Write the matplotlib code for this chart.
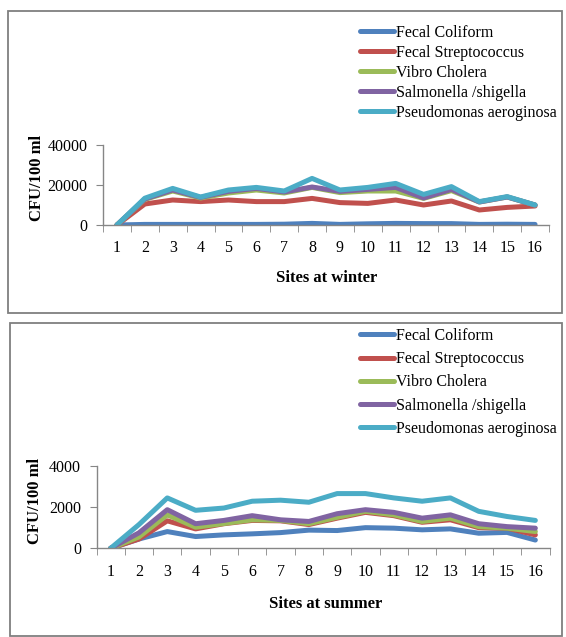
#bacteria counts winter / summer
import matplotlib
matplotlib.use('Agg')
import matplotlib.pyplot as plt
from matplotlib.patches import Rectangle

plt.rcParams['font.family'] = ['Liberation Serif', 'DejaVu Serif']

sites = list(range(1, 17))
names = ['Fecal Coliform', 'Fecal Streptococcus', 'Vibro Cholera',
         'Salmonella /shigella', 'Pseudomonas aeroginosa']
colors = ['#4F81BD', '#C0504D', '#9BBB59', '#8064A2', '#4BACC6']

winter_fc = [0, 300, 300, 300, 300, 300, 400, 800, 300, 600, 800, 700, 700, 300, 400, 300]
winter_fs = [0, 10500, 12500, 11700, 12500, 11700, 11700, 13300, 11200, 10800, 12500, 10000, 12000, 7500, 8800, 9500]
winter_vc = [0, 12800, 17000, 13500, 16000, 17500, 16000, 18800, 16200, 17000, 17000, 13300, 17200, 11500, 14000, 10000]
winter_ss = [0, 13000, 17500, 13800, 16800, 18300, 16500, 19000, 16800, 17800, 18800, 13500, 17800, 11500, 14000, 10000]
winter_pa = [0, 13400, 18300, 14000, 17500, 18800, 17000, 23300, 17500, 18800, 20800, 15300, 19200, 11700, 14200, 10000]

summer_fc = [0, 450, 810, 570, 650, 700, 760, 880, 860, 1000, 975, 895, 940, 730, 770, 400]
summer_fs = [0, 450, 1330, 940, 1190, 1350, 1330, 1150, 1460, 1740, 1580, 1260, 1380, 1000, 975, 650]
summer_vc = [0, 550, 1620, 1020, 1200, 1380, 1350, 1190, 1500, 1790, 1620, 1300, 1460, 1050, 975, 810]
summer_ss = [0, 750, 1870, 1190, 1350, 1580, 1380, 1300, 1675, 1870, 1740, 1460, 1620, 1190, 1050, 975]
summer_pa = [0, 1150, 2440, 1840, 1950, 2280, 2330, 2230, 2650, 2650, 2440, 2280, 2440, 1790, 1540, 1350]

winter_ticks = [0, 20000, 40000]
summer_ticks = [0, 2000, 4000]

fig = plt.figure(figsize=(5.66, 6.37), dpi=100)
W, H = 566.0, 637.0
grey = '#868686'


def panel(rect, series, yticks, leg_top, leg_space):
    ax = fig.add_axes(rect)
    for vals, name, c in zip(series, names, colors):
        ax.plot(sites, vals, color=c, lw=3.6, label=name, solid_capstyle='round',
                solid_joinstyle='round')
    ax.set_xlim(0.5, 16.5)
    ax.set_ylim(yticks[0], yticks[-1])
    ax.set_yticks(yticks)
    ax.set_xticks(sites)
    ax.set_xticks([s - 0.5 for s in sites] + [16.5], minor=True)
    ax.tick_params(axis='x', which='major', length=0, pad=11, labelsize=11.5)
    ax.tick_params(axis='x', which='minor', length=5, color=grey, direction='out')
    ax.tick_params(axis='y', length=5, color=grey, pad=6, labelsize=11.5)
    for s in ['top', 'right']:
        ax.spines[s].set_visible(False)
    for s in ['left', 'bottom']:
        ax.spines[s].set_color(grey)
        ax.spines[s].set_linewidth(1.0)
    ax.patch.set_alpha(0)
    fig.legend(loc='upper left', bbox_to_anchor=(360 / W, leg_top), frameon=False,
               fontsize=11.5, handlelength=2.1, handletextpad=0.15,
               labelspacing=leg_space, borderpad=0, borderaxespad=0,
               handles=ax.get_lines())
    return ax


# top panel (winter)
fig.add_artist(Rectangle((8 / W, 1 - 313 / H), 554 / W, 302 / H, transform=fig.transFigure,
                         fill=False, ec='#7f7f7f', lw=1.3))
panel([103 / W, 1 - 225 / H, 446 / W, 80 / H],
      [winter_fc, winter_fs, winter_vc, winter_ss, winter_pa],
      winter_ticks, 1 - 25 / H, 0.25)
fig.text(37 / W, 1 - 178 / H, 'CFU/100 ml', rotation=90, fontsize=12, fontweight='bold',
         ha='center', va='center')
fig.text(327 / W, 1 - 278 / H, 'Sites at winter', fontsize=12, fontweight='bold',
         ha='center', va='center')

# bottom panel (summer)
fig.add_artist(Rectangle((10 / W, 1 - 636 / H), 552 / W, 313 / H, transform=fig.transFigure,
                         fill=False, ec='#7f7f7f', lw=1.3))
panel([96.5 / W, 1 - 548.3 / H, 453 / W, 82.6 / H],
      [summer_fc, summer_fs, summer_vc, summer_ss, summer_pa],
      summer_ticks, 1 - 328 / H, 0.45)
fig.text(35 / W, 1 - 501 / H, 'CFU/100 ml', rotation=90, fontsize=12, fontweight='bold',
         ha='center', va='center')
fig.text(326 / W, 1 - 604 / H, 'Sites at summer', fontsize=12, fontweight='bold',
         ha='center', va='center')

fig.savefig('out.png', dpi=100)
